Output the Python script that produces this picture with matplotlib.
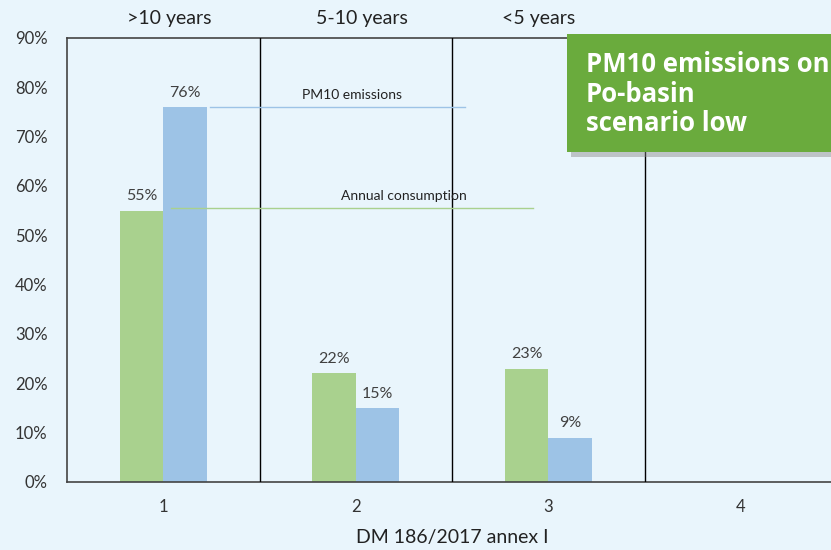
import numpy as np
import matplotlib.pyplot as plt
from matplotlib.patches import Rectangle

# data
categories = [1, 2, 3, 4]
consumption = [55, 22, 23, 0]      # green
pm10 = [76, 15, 9, 0]              # blue
age_labels = [">10 years", "5-10 years", "<5 years"]
yticks = np.arange(0, 100, 10)

bg = "#e9f5fc"
green = "#a9d18e"
blue = "#9dc3e6"

fig = plt.figure(figsize=(8.31, 5.5), dpi=100)
fig.patch.set_facecolor(bg)
ax = fig.add_axes([67/831, (550-482)/550, (837-67)/831, (482-38)/550])
ax.set_facecolor(bg)

x = np.array(categories, dtype=float)
w = 0.225
ax.bar(x[:3] - w/2, consumption[:3], w, color=green, zorder=2)
ax.bar(x[:3] + w/2, pm10[:3], w, color=blue, zorder=2)

#value labels
for xi, v in zip(x[:3], consumption[:3]):
    ax.text(xi - w/2, v + 1.5, f"{v}%", ha="center", va="bottom", fontsize=11.5, color="#404040", family="Lato")
for xi, v in zip(x[:3], pm10[:3]):
    ax.text(xi + w/2, v + 1.5, f"{v}%", ha="center", va="bottom", fontsize=11.5, color="#404040", family="Lato")

# separators between categories
for s in [1.5, 2.5, 3.5]:
    ax.axvline(s, color="black", lw=1, zorder=3)

# reference lines with labels
ax.plot([1.245, 2.57], [pm10[0], pm10[0]], color="#9dc3e6", lw=1, zorder=3)
ax.text(1.98, pm10[0] + 1.2, "PM10 emissions", ha="center", va="bottom", fontsize=10, family="Lato", color="#222222")
ax.plot([1.04, 2.92], [consumption[0] + 0.5, consumption[0] + 0.5], color="#a9d18e", lw=1, zorder=3)
ax.text(2.25, consumption[0] + 1.7, "Annual consumption", ha="center", va="bottom", fontsize=10, family="Lato", color="#222222")

# age group labels above
for xi, lab in zip([1.03, 2.03, 2.95], age_labels):
    ax.text(xi, 92.3, lab, ha="center", va="bottom", fontsize=14, family="Lato", color="#222222")

ax.set_xlim(0.5, 4.5)
ax.set_ylim(0, 90)
ax.set_xticks(categories)
ax.set_xticklabels([str(c) for c in categories], family="Lato", fontsize=12)
ax.set_yticks(yticks)
ax.set_yticklabels([f"{t}%" for t in yticks], family="Lato", fontsize=12)
ax.tick_params(length=0, pad=12, colors="#333333")
ax.tick_params(axis="y", pad=14)
for sp in ax.spines.values():
    sp.set_color("#444444")
    sp.set_linewidth(1.2)
ax.set_xlabel("DM 186/2017 annex I", family="Lato", fontsize=14, color="#222222", labelpad=10)

# title box
shadow = Rectangle((571/831, (550-157)/550), 270/831, 118/550, transform=fig.transFigure,
                   facecolor="#888888", alpha=0.45, edgecolor="none", zorder=4)
fig.patches.append(shadow)
box = Rectangle((567/831, (550-152)/550), 270/831, 118/550, transform=fig.transFigure,
                facecolor="#6aab3d", edgecolor="none", zorder=5)
fig.patches.append(box)
fig.text(586/831, (550-94)/550, "PM10 emissions on\nPo-basin\nscenario low", fontsize=18.5,
         fontweight="bold", family="Open Sans", color="white", va="center", ha="left",
         linespacing=1.13, zorder=6)

fig.savefig("out.png", dpi=100, facecolor=bg)
